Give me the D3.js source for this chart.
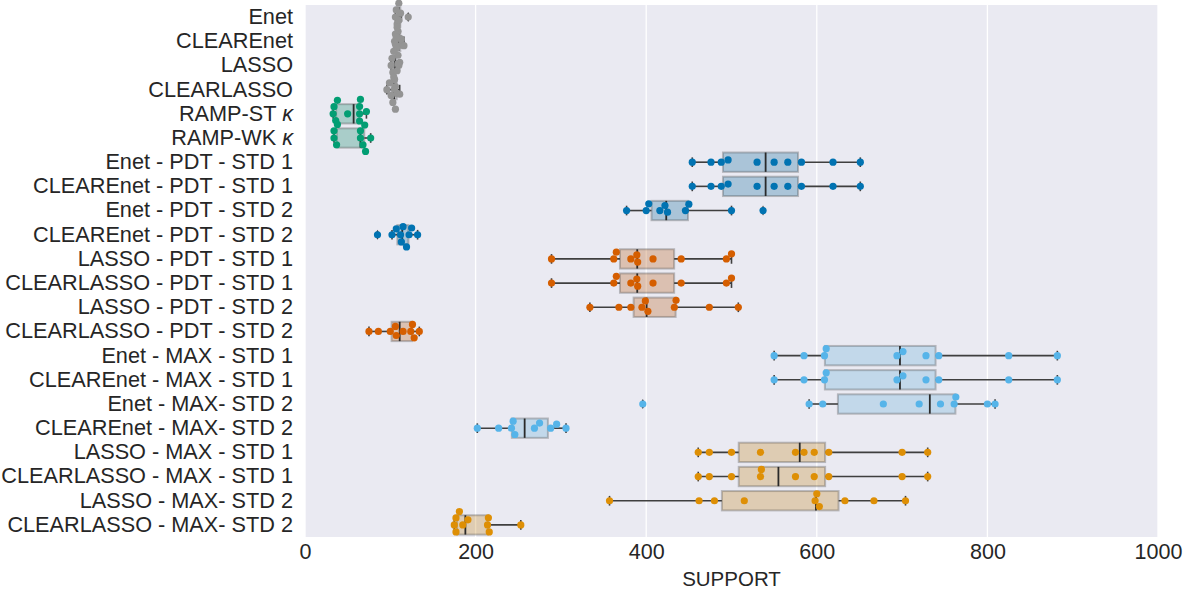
<!DOCTYPE html>
<html><head><meta charset="utf-8">
<script src="https://cdn.jsdelivr.net/npm/d3@7"></script>
<style>
body{margin:0;background:#fff}
text{font-family:"Liberation Sans",Arial,Helvetica,sans-serif;fill:#262626}
</style></head>
<body><svg id="c" width="1191" height="592"></svg>
<script>
const categories = ["Enet","CLEAREnet","LASSO","CLEARLASSO","RAMP-ST κ","RAMP-WK κ",
 "Enet - PDT - STD 1","CLEAREnet - PDT - STD 1","Enet - PDT - STD 2","CLEAREnet - PDT - STD 2",
 "LASSO - PDT - STD 1","CLEARLASSO - PDT - STD 1","LASSO - PDT - STD 2","CLEARLASSO - PDT - STD 2",
 "Enet - MAX - STD 1","CLEAREnet - MAX - STD 1","Enet - MAX- STD 2","CLEAREnet - MAX- STD 2",
 "LASSO - MAX - STD 1","CLEARLASSO - MAX - STD 1","LASSO - MAX- STD 2","CLEARLASSO - MAX- STD 2"];

const enet = [106,107,108,109,110,110,111,112,113,121];
const clearEnet = [105,106,107,108,109,110,111,112,113,116];
const lasso = [101,102,103,104,105,106,106,107,108,110];
const clearLasso = [96,99,101,103,104,105,106,108,109,111];
const rampST = [33,34,36,38,50,64,64,64,65,72];
const rampWK = [34,34,37,38,65,65,68,70,71,77];
const enetPdt1 = [454,476,488,496,530,550,566,582,619,651];
const clearEnetPdt1 = [454,476,488,496,530,550,566,582,619,651];
const enetPdt2 = [377,400,403,416,422,425,446,450,500,537];
const clearEnetPdt2 = [85,102,107,112,113,115,119,122,125,132];
const lassoPdt1 = [289,362,365,382,389,390,408,441,494,500];
const clearLassoPdt1 = [289,362,365,382,389,390,408,441,494,500];
const lassoPdt2 = [334,368,382,395,399,402,433,435,474,508];
const clearLassoPdt2 = [75,86,100,106,107,115,124,126,128,134];
const enetMax1 = [550,585,609,611,694,701,728,743,825,882];
const clearEnetMax1 = [550,585,609,611,694,701,728,743,825,882];
const enetMax2 = [396,591,607,678,720,745,761,763,800,809];
const clearEnetMax2 = [202,227,242,244,246,269,275,288,295,306];
const lassoMax1 = [461,474,500,534,575,585,597,614,700,730];
const clearLassoMax1 = [461,474,500,534,535,575,597,614,700,730];
const lassoMax2 = [357,462,480,515,598,600,603,633,667,704];
const clearLassoMax2 = [175,177,177,181,185,191,214,215,216,253];

const seriesValues = [enet,clearEnet,lasso,clearLasso,rampST,rampWK,
 enetPdt1,clearEnetPdt1,enetPdt2,clearEnetPdt2,lassoPdt1,clearLassoPdt1,lassoPdt2,clearLassoPdt2,
 enetMax1,clearEnetMax1,enetMax2,clearEnetMax2,lassoMax1,clearLassoMax1,lassoMax2,clearLassoMax2];

const palette = ["#949494","#029e73","#0173b2","#d55e00","#56b4e9","#de8f05"];
const colorGroup = [0,0,0,0,1,1,2,2,2,2,3,3,3,3,4,4,4,4,5,5,5,5];
const xTicks = [0,200,400,600,800,1000];

const W=1191,H=592, L=305, R=1158, T=5, B=537;
const svg = d3.select("#c");
const x = d3.scaleLinear([0,1000],[L,R]);
const y = d3.scaleBand(categories,[T,B]).padding(0);
const bw = y.bandwidth();
const boxH = bw*0.8;
const rad = 3.6;

svg.append("rect").attr("x",L).attr("y",T).attr("width",R-L).attr("height",B-T).attr("fill","#eaeaf2");
svg.append("g").selectAll("line").data(xTicks).join("line")
  .attr("x1",d=>x(d)).attr("x2",d=>x(d)).attr("y1",T).attr("y2",B)
  .attr("stroke","#fff").attr("stroke-width",1.3);

function desat(c, p){ const h=d3.hsl(c); h.s*=p; return h.formatHex(); }
const grayLine="#3f3f3f";

const stats = seriesValues.map((vals,i)=>{
  const s=[...vals].sort(d3.ascending);
  const q1=d3.quantile(s,0.25), med=d3.quantile(s,0.5), q3=d3.quantile(s,0.75);
  const iqr=q3-q1;
  const lo=d3.min(s.filter(v=>v>=q1-1.5*iqr)), hi=d3.max(s.filter(v=>v<=q3+1.5*iqr));
  const fl=s.filter(v=>v<lo||v>hi);
  return {i,cat:categories[i],q1,med,q3,lo,hi,fl,col:palette[colorGroup[i]]};
});

const gb = svg.append("g");
stats.forEach(st=>{
  const cy = y(st.cat)+bw/2;
  const g = gb.append("g");
  g.append("line").attr("x1",x(st.lo)).attr("x2",x(st.q1)).attr("y1",cy).attr("y2",cy).attr("stroke",grayLine).attr("stroke-width",1.6);
  g.append("line").attr("x1",x(st.q3)).attr("x2",x(st.hi)).attr("y1",cy).attr("y2",cy).attr("stroke",grayLine).attr("stroke-width",1.6);
  [st.lo,st.hi].forEach(v=>g.append("line").attr("x1",x(v)).attr("x2",x(v)).attr("y1",cy-boxH/4).attr("y2",cy+boxH/4).attr("stroke",grayLine).attr("stroke-width",1.6));
  g.append("rect").attr("x",x(st.q1)).attr("y",cy-boxH/2).attr("width",Math.max(0,x(st.q3)-x(st.q1))).attr("height",boxH)
    .attr("fill",desat(st.col,0.75)).attr("fill-opacity",0.3)
    .attr("stroke",grayLine).attr("stroke-opacity",0.3).attr("stroke-width",2);
  g.append("line").attr("x1",x(st.med)).attr("x2",x(st.med)).attr("y1",cy-boxH/2).attr("y2",cy+boxH/2).attr("stroke","#2a2a2a").attr("stroke-width",1.8);
  st.fl.forEach(v=>g.append("path").attr("transform",`translate(${x(v)},${cy})`)
     .attr("d","M0,-5L2.8,0L0,5L-2.8,0Z").attr("fill",grayLine));
});

function swarm(vals, r){
  const order=[...vals].sort(d3.ascending);
  const placed=[];
  order.forEach(v=>{
    const px=x(v);
    const cands=[0];
    placed.forEach(p=>{const dx=px-p.x; if(Math.abs(dx)<2*r){const dy=Math.sqrt(4*r*r-dx*dx); cands.push(p.y+dy,p.y-dy);} });
    cands.sort((a,b)=>(Math.abs(a)-Math.abs(b))||(a-b));
    let chosen=0;
    for(const c of cands){
      if(placed.every(p=>((px-p.x)**2+(c-p.y)**2)>=4*r*r-0.01)){chosen=c;break;}
    }
    placed.push({x:px,y:chosen,v});
  });
  return placed;
}
const gp = svg.append("g");
stats.forEach(st=>{
  const cy=y(st.cat)+bw/2;
  const pts=swarm(seriesValues[st.i], rad);
  gp.append("g").selectAll("circle").data(pts).join("circle")
    .attr("cx",d=>d.x).attr("cy",d=>cy+d.y).attr("r",rad).attr("fill",st.col);
});

const xa = svg.append("g").attr("transform",`translate(0,${B})`)
  .call(d3.axisBottom(x).tickValues(xTicks).tickSize(0).tickPadding(7).tickFormat(d3.format("d")));
xa.select(".domain").remove();
xa.selectAll("text").attr("font-size",21.5).style("font-family",'"Liberation Sans",Arial,sans-serif').attr("fill","#262626");

const ya = svg.append("g").attr("transform",`translate(${L},0)`)
  .call(d3.axisLeft(y).tickSize(0).tickPadding(12));
ya.select(".domain").remove();
ya.selectAll("text").attr("font-size",21.7).style("font-family",'"Liberation Sans",Arial,sans-serif').attr("fill","#262626")
  .each(function(d){
    if(d.endsWith("κ")){
      const t=d3.select(this); t.text(null);
      t.append("tspan").text(d.slice(0,-1));
      t.append("tspan").attr("font-style","italic").text("κ");
    }
  });

svg.append("text").attr("x",(L+R)/2).attr("y",586).attr("text-anchor","middle")
  .attr("font-size",20.5).text("SUPPORT");
</script></body></html>
